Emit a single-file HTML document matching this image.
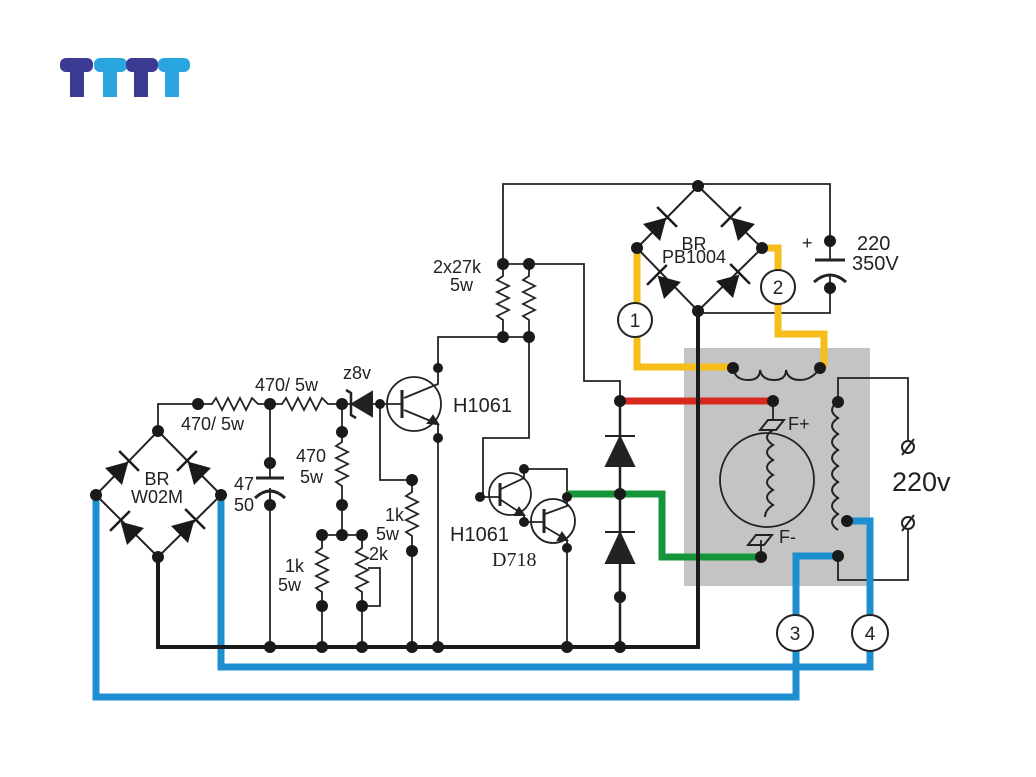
<!DOCTYPE html>
<html><head><meta charset="utf-8"><style>
html,body{margin:0;padding:0;background:#fff;}
svg{display:block;}
text{font-family:"Liberation Sans",sans-serif;fill:#222;}
</style></head><body>
<svg width="1036" height="777" viewBox="0 0 1036 777" xmlns="http://www.w3.org/2000/svg">
<defs>
<g id="dio"><polygon points="-12,-12 -12,12 9,0" fill="#1a1a1a"/><line x1="10" y1="-14" x2="10" y2="14" stroke="#1a1a1a" stroke-width="2.5"/></g>
</defs>
<!-- logo -->
<g>
<rect x="60" y="58" width="33" height="14" rx="6" fill="#3b3b93"/>
<rect x="70" y="58" width="14" height="39" fill="#3b3b93"/>
<rect x="94" y="58" width="33" height="14" rx="6" fill="#29a5e0"/>
<rect x="103" y="58" width="14" height="39" fill="#29a5e0"/>
<rect x="126" y="58" width="32" height="14" rx="6" fill="#3b3b93"/>
<rect x="134" y="58" width="14" height="39" fill="#3b3b93"/>
<rect x="158" y="58" width="32" height="14" rx="6" fill="#29a5e0"/>
<rect x="165" y="58" width="14" height="39" fill="#29a5e0"/>
</g>

<rect x="684" y="348" width="186" height="238" fill="#c4c4c4"/>

<g fill="none" stroke="#222" stroke-width="1.8">
<polyline points="503,264 503,184 830,184 830,241"/>
<polyline points="698,313 830,313 830,288"/>
<polyline points="529,264 584,264 584,381 620,381 620,401"/>
<polyline points="503,337 438,337 438,368"/>
<polyline points="529,337 529,438 483,438 483,497"/>
<line x1="503" y1="264" x2="529" y2="264"/><line x1="503" y1="337" x2="529" y2="337"/>
<polyline points="503,264 503,276 497,280 509,286 497,292 509,298 497,304 509,310 497,316 503,320 503,337"/>
<polyline points="529,264 529,276 523,280 535,286 523,292 535,298 523,304 535,310 523,316 529,320 529,337"/>
<polygon points="698,186 762,248 698,311 637,248" stroke-width="2"/>
<line x1="830" y1="241" x2="830" y2="260"/>
<polygon points="158,431 221,495 158,557 96,495" stroke-width="2"/>
<polyline points="158,431 158,404 198,404"/>
<polyline points="198,404 212,404 216,398 222,410 228,398 234,410 240,398 246,410 252,398 258,404 270,404"/>
<polyline points="270,404 282,404 286,398 292,410 298,398 304,410 310,398 316,410 322,398 328,404 342,404"/>
<line x1="342" y1="404" x2="380" y2="404"/>
<circle cx="414" cy="404" r="27"/>
<line x1="380" y1="404" x2="402" y2="404"/>
<polyline points="438,368 438,384 404,398"/>
<polyline points="404,410 438,424 438,647"/>
<polyline points="380,404 380,480 412,480"/>
<polyline points="412,480 412,492 406,496 418,502 406,508 418,514 406,520 418,526 406,532 412,536 412,647"/>
<line x1="270" y1="404" x2="270" y2="478"/>
<line x1="270" y1="495" x2="270" y2="647"/>
<line x1="342" y1="404" x2="342" y2="432"/>
<polyline points="342,432 342,442 336,446 348,452 336,458 348,464 336,470 348,476 336,482 342,486 342,535"/>
<line x1="322" y1="535" x2="362" y2="535"/>
<polyline points="322,535 322,548 316,552 328,558 316,564 328,570 316,576 328,582 316,588 322,592 322,647"/>
<polyline points="362,535 362,548 356,552 368,558 356,564 368,570 356,576 368,582 356,588 362,592 362,647"/>
<polyline points="368,568 380,568 380,606 362,606"/>
<circle cx="510" cy="494" r="21"/>
<circle cx="553" cy="521" r="22"/>
<line x1="480" y1="497" x2="500" y2="497"/>
<polyline points="524,469 524,478 501,489"/>
<polyline points="501,500 524,515 524,522"/>
<polyline points="524,469 567,469 567,497"/>
<line x1="524" y1="522" x2="544" y2="522"/>
<polyline points="567,497 567,506 545,514"/>
<polyline points="545,527 567,540 567,647"/>
<line x1="620" y1="401" x2="620" y2="647" stroke-width="2.5"/>
<polyline points="838,402 838,378 908,378 908,440"/>
<polyline points="838,556 838,580 908,580 908,530"/>
<circle cx="767" cy="480" r="47"/>
<line x1="773" y1="401" x2="773" y2="420"/>
<line x1="761" y1="540" x2="761" y2="557"/>
</g>

<!-- bridge diodes -->
<use href="#dio" transform="translate(122,468) rotate(-45)"/>
<use href="#dio" transform="translate(194,468) rotate(-135)"/>
<use href="#dio" transform="translate(127,528) rotate(-135)"/>
<use href="#dio" transform="translate(188,526) rotate(-45)"/>
<use href="#dio" transform="translate(660,224) rotate(-45)"/>
<use href="#dio" transform="translate(738,224) rotate(-135)"/>
<use href="#dio" transform="translate(664,282) rotate(-135)"/>
<use href="#dio" transform="translate(733,281) rotate(-45)"/>

<g fill="#222" stroke="#222" stroke-width="2">
<polygon points="372,392 372,416 352,404"/>
<polyline points="346,390 351,393 351,415 356,418" fill="none" stroke-width="2.5"/>
<line x1="402" y1="390" x2="402" y2="418" stroke-width="3"/>
<polygon points="438,424 428,423 433,416"/>
<line x1="500" y1="483" x2="500" y2="506" stroke-width="3"/>
<polygon points="524,515 515,515 519,508"/>
<line x1="544" y1="509" x2="544" y2="533" stroke-width="3"/>
<polygon points="567,540 558,540 562,533"/>
<polygon points="606,466 634,466 620,437"/>
<line x1="605" y1="436" x2="635" y2="436"/>
<polygon points="606,563 634,563 620,533"/>
<line x1="605" y1="532" x2="635" y2="532"/>
<line x1="815" y1="260" x2="845" y2="260" stroke-width="3"/>
<line x1="256" y1="478" x2="284" y2="478" stroke-width="3"/>
</g>
<g fill="none" stroke="#222" stroke-width="3">
<path d="M814,282 Q830,268 846,282"/>
<path d="M255,498 Q270,484 285,498"/>
</g>
<line x1="270" y1="488" x2="270" y2="505" stroke="#222" stroke-width="1.8"/>
<line x1="830" y1="275" x2="830" y2="288" stroke="#222" stroke-width="1.8"/>

<g fill="none" stroke-width="7">
<polyline stroke="#f7bd1a" points="637,248 637,367 733,367"/>
<polyline stroke="#f7bd1a" points="762,248 778,248 778,334 824,334 824,367"/>
<line stroke="#d8291f" x1="620" y1="401" x2="773" y2="401"/>
<polyline stroke="#14953a" points="567,494 662,494 662,557 761,557"/>
<polyline stroke="#1d8fd0" points="847,521 870,521 870,667 221,667 221,495"/>
<polyline stroke="#1d8fd0" points="838,556 796,556 796,697 96,697 96,495"/>
</g>
<polyline points="698,311 698,647 158,647 158,557" fill="none" stroke="#1a1a1a" stroke-width="4"/>
<g fill="none" stroke="#222" stroke-width="2">
<path d="M733,368 Q735,380 748,380 Q760,380 760,370 Q762,380 774,380 Q786,380 786,370 Q788,380 800,380 Q812,380 820,368"/>
<path d="M773,430 q-12,7 0,15 q-12,7 0,15 q-12,7 0,15 q-12,7 0,15 q-12,7 0,15 q-8,5 -8,12"/>
<path d="M838,402 q-12,8 0,16 q-12,8 0,16 q-12,8 0,16 q-12,8 0,16 q-12,8 0,16 q-12,8 0,16 q-12,8 0,16 q-12,8 0,16"/>
<polygon points="760,430 768,420 784,420 776,430"/>
<polygon points="748,545 756,535 772,535 764,545"/>
<circle cx="908" cy="447" r="6"/><line x1="902" y1="455" x2="914" y2="439"/>
<circle cx="908" cy="523" r="6"/><line x1="902" y1="531" x2="914" y2="515"/>
</g>
<g fill="#fff" stroke="#222" stroke-width="2">
<circle cx="635" cy="320" r="17"/>
<circle cx="778" cy="287" r="17"/>
<circle cx="795" cy="633" r="18"/>
<circle cx="870" cy="633" r="18"/>
</g>
<g font-size="19" text-anchor="middle">
<text x="635" y="327">1</text>
<text x="778" y="294">2</text>
<text x="795" y="640">3</text>
<text x="870" y="640">4</text>
</g>

<g fill="#1a1a1a">
<circle cx="698" cy="186" r="6"/><circle cx="637" cy="248" r="6"/><circle cx="762" cy="248" r="6"/><circle cx="698" cy="311" r="6"/>
<circle cx="830" cy="241" r="6"/><circle cx="830" cy="288" r="6"/>
<circle cx="503" cy="264" r="6"/><circle cx="529" cy="264" r="6"/><circle cx="503" cy="337" r="6"/><circle cx="529" cy="337" r="6"/>
<circle cx="733" cy="368" r="6"/><circle cx="820" cy="368" r="6"/>
<circle cx="620" cy="401" r="6"/><circle cx="773" cy="401" r="6"/>
<circle cx="620" cy="494" r="6"/><circle cx="620" cy="597" r="6"/>
<circle cx="761" cy="557" r="6"/>
<circle cx="838" cy="402" r="6"/><circle cx="847" cy="521" r="6"/><circle cx="838" cy="556" r="6"/>
<circle cx="158" cy="431" r="6"/><circle cx="96" cy="495" r="6"/><circle cx="221" cy="495" r="6"/><circle cx="158" cy="557" r="6"/>
<circle cx="198" cy="404" r="6"/><circle cx="270" cy="404" r="6"/><circle cx="342" cy="404" r="6"/><circle cx="380" cy="404" r="5"/>
<circle cx="438" cy="368" r="5"/><circle cx="438" cy="438" r="5"/>
<circle cx="270" cy="463" r="6"/><circle cx="270" cy="505" r="6"/>
<circle cx="342" cy="432" r="6"/><circle cx="342" cy="505" r="6"/>
<circle cx="322" cy="535" r="6"/><circle cx="342" cy="535" r="6"/><circle cx="362" cy="535" r="6"/>
<circle cx="322" cy="606" r="6"/><circle cx="362" cy="606" r="6"/>
<circle cx="412" cy="480" r="6"/><circle cx="412" cy="551" r="6"/>
<circle cx="480" cy="497" r="5"/><circle cx="524" cy="469" r="5"/><circle cx="524" cy="522" r="5"/>
<circle cx="567" cy="497" r="5"/><circle cx="567" cy="548" r="5"/>
<circle cx="270" cy="647" r="6"/><circle cx="322" cy="647" r="6"/><circle cx="362" cy="647" r="6"/><circle cx="412" cy="647" r="6"/><circle cx="438" cy="647" r="6"/><circle cx="567" cy="647" r="6"/><circle cx="620" cy="647" r="6"/>
</g>

<g font-size="18">
<text x="433" y="273">2x27k</text>
<text x="450" y="291">5w</text>
<text x="694" y="250" text-anchor="middle">BR</text>
<text x="694" y="263" text-anchor="middle">PB1004</text>
<text x="255" y="391">470/ 5w</text>
<text x="181" y="430">470/ 5w</text>
<text x="343" y="379">z8v</text>
<text x="296" y="462">470</text>
<text x="300" y="483">5w</text>
<text x="385" y="521">1k</text>
<text x="376" y="540">5w</text>
<text x="285" y="572">1k</text>
<text x="278" y="591">5w</text>
<text x="369" y="560">2k</text>
<text x="157" y="485" text-anchor="middle">BR</text>
<text x="157" y="503" text-anchor="middle">W02M</text>
<text x="254" y="490" text-anchor="end">47</text>
<text x="254" y="511" text-anchor="end">50</text>
<text x="263" y="468">+</text>
<text x="802" y="249">+</text>
<text x="788" y="430">F+</text>
<text x="779" y="543">F-</text>
</g>
<g font-size="20">
<text x="453" y="412">H1061</text>
<text x="450" y="541">H1061</text>
<text x="857" y="250">220</text>
<text x="852" y="270">350V</text>
</g>
<text x="492" y="566" font-size="20" style="font-family:'Liberation Serif',serif">D718</text>
<text x="892" y="491" font-size="27">220v</text>
</svg>
</body></html>
